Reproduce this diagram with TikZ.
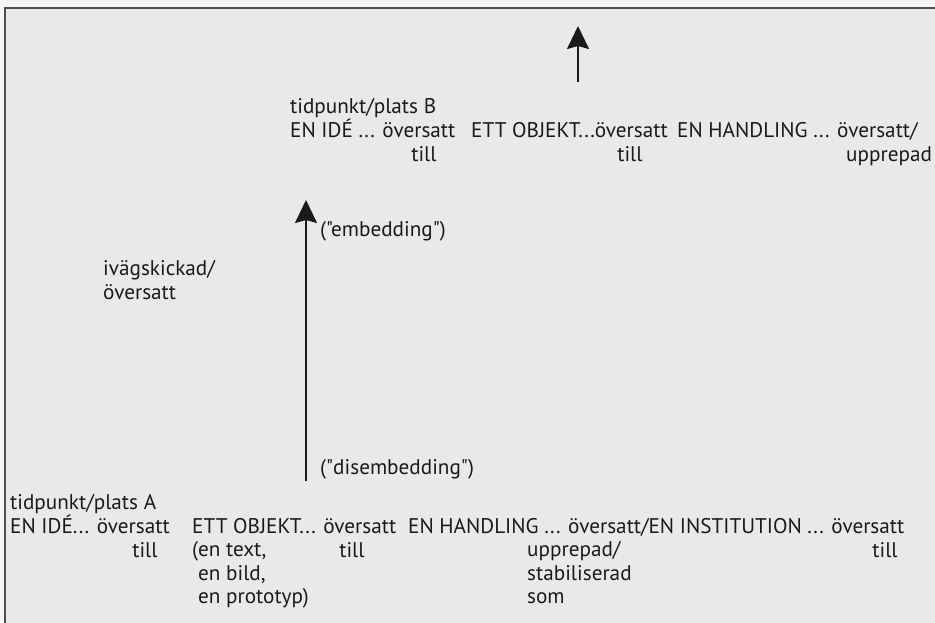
\documentclass[tikz,border=0pt]{standalone}
\usepackage{fontspec}
\setmainfont{PT Sans}[Ligatures=TeXOff]
\usetikzlibrary{arrows.meta}
\definecolor{paper}{RGB}{233,233,231}
\definecolor{margin}{RGB}{246,246,245}
\definecolor{ink}{RGB}{26,26,26}
\definecolor{framegray}{RGB}{80,80,80}

\begin{document}
\begin{tikzpicture}[x=1pt, y=-1pt,
      font=\fontsize{21.2}{23.8}\selectfont,
      lbl/.style={inner sep=0pt, anchor=base west, text=ink},
      below/.style={inner sep=0pt, anchor=base, text=ink},
      stack/.style={inner sep=0pt, anchor=north west, align=left, text=ink},
      flow/.style={-{Stealth[length=23pt,width=22pt,inset=3pt]}, ink, line width=2pt},
    ]
    \clip (0,0) rectangle (935,622);
    \fill[margin] (0,0) rectangle (935,622);
    \fill[paper] (5,8) rectangle (945,630);
    \draw[framegray, line width=2pt] (945,8) -- (5,8) -- (5,630);

    \node[lbl] (plB) at (290,113) {tidpunkt/plats B};
    \node[lbl] (b1) at (290,137) {EN IDÉ ... översatt};
    \node[below] (b1t) at (424,161) {till};
    \node[lbl] (b2) at (471,137) {ETT OBJEKT...översatt};
    \node[below] (b2t) at (630,161) {till};
    \node[lbl] (b3) at (677,137) {EN HANDLING ... översatt/};
    \node[lbl] (b3t) at (846,161) {upprepad};

    \node[lbl] (emb) at (320,236) {("embedding")};
    \node[stack] (iv) at (103,260) {ivägskickad/\\översatt};
    \node[lbl] (dis) at (320,474) {("disembedding")};

    \node[lbl] (plA) at (10,509) {tidpunkt/plats A};
    \node[lbl] (a1) at (10,533) {EN IDÉ... översatt};
    \node[below] (a1t) at (145,557) {till};
    \node[lbl] (a2) at (192,533) {ETT OBJEKT... översatt};
    \node[stack] (a2x) at (192,541) {(en text,\\\hphantom{(}en bild,\\\hphantom{(}en prototyp)};
    \node[below] (a2t) at (352,557) {till};
    \node[lbl] (a3) at (408,533) {EN HANDLING ... översatt/EN INSTITUTION ... översatt};
    \node[stack] (a3x) at (527,541) {upprepad/\\stabiliserad\\som};
    \node[below] (a4t) at (885,557) {till};

    \coordinate (outB) at (578,26);
    \coordinate (fromB) at (578,82);
    \coordinate (upA) at (306,200);
    \coordinate (fromA) at (306,481);
    \draw[flow] (fromB) -- (outB);
    \draw[flow] (fromA) -- (upA);
  \end{tikzpicture}
\end{document}
